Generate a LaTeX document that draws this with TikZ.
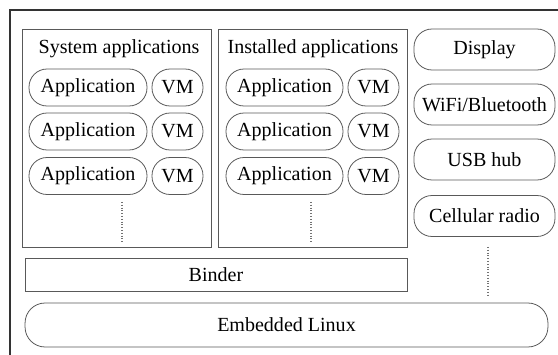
\documentclass[tikz,border=0pt]{standalone}
\usepackage{fontspec}
\setmainfont{Liberation Serif}
\usetikzlibrary{positioning}

\begin{document}
\begin{tikzpicture}[
                x=0.02cm, y=-0.02cm,
                font=\fontsize{11.4}{13.7}\selectfont,
                box/.style={draw=black!65, line width=0.45pt, inner sep=0pt},
                pill/.style={draw=black!65, line width=0.45pt, rounded corners=0.36cm, inner sep=0pt},
                dots/.style={draw=black!55, densely dotted, line width=0.6pt}
            ]
                \useasboundingbox (0,0) rectangle (558,355);
                % outer frame (cut off at the right and bottom)
                \draw[black!80, line width=0.8pt] (10,355) -- (10,10) -- (558,10);

                % application groups
                \node[box, minimum width=3.78cm, minimum height=4.36cm] (sys) at (116.5,138) {};
                \node[box, minimum width=3.78cm, minimum height=4.36cm] (inst) at (312.5,138) {};
                \node (systitle) at (119,49) {System applications};
                \node (insttitle) at (313,49) {Installed applications};

                \foreach \r/\y in {1/87.5, 2/131.5, 3/176} {
                    \node[pill, minimum width=2.36cm, minimum height=0.74cm] (sa\r) at (88,\y) {Application};
                    \node[pill, minimum width=1.02cm, minimum height=0.74cm] (sv\r) at (177.5,\y) {VM};
                    \node[pill, minimum width=2.34cm, minimum height=0.74cm] (ia\r) at (284.5,\y) {Application};
                    \node[pill, minimum width=1.02cm, minimum height=0.74cm] (iv\r) at (373.5,\y) {VM};
                }
                \coordinate (sdot) at (122,242);
                \coordinate (idot) at (311,242);
                \draw[dots] (sa3.south -| sdot) ++(0,7) -- (sdot);
                \draw[dots] (ia3.south -| idot) ++(0,7) -- (idot);

                % hardware
                \node[pill, minimum width=2.82cm, minimum height=0.82cm] (disp) at (484.5,49.5) {Display};
                \node[pill, minimum width=2.82cm, minimum height=0.82cm] (wifi) at (484.5,104.5) {WiFi/Bluetooth};
                \node[pill, minimum width=2.82cm, minimum height=0.82cm] (usb) at (484.5,159.5) {USB hub};
                \node[pill, minimum width=2.82cm, minimum height=0.82cm] (cell) at (484.5,216) {Cellular radio};

                % lower layers
                \node[box, minimum width=7.64cm, minimum height=0.66cm] (binder) at (216,274.5) {Binder};
                \node[pill, rounded corners=0.4cm, minimum width=10.46cm, minimum height=0.88cm] (linux) at (286.5,325) {Embedded Linux};

                \coordinate (hdot) at (488,295);
                \draw[dots] (cell.south -| hdot) ++(0,10) -- (hdot);
            \end{tikzpicture}
\end{document}
